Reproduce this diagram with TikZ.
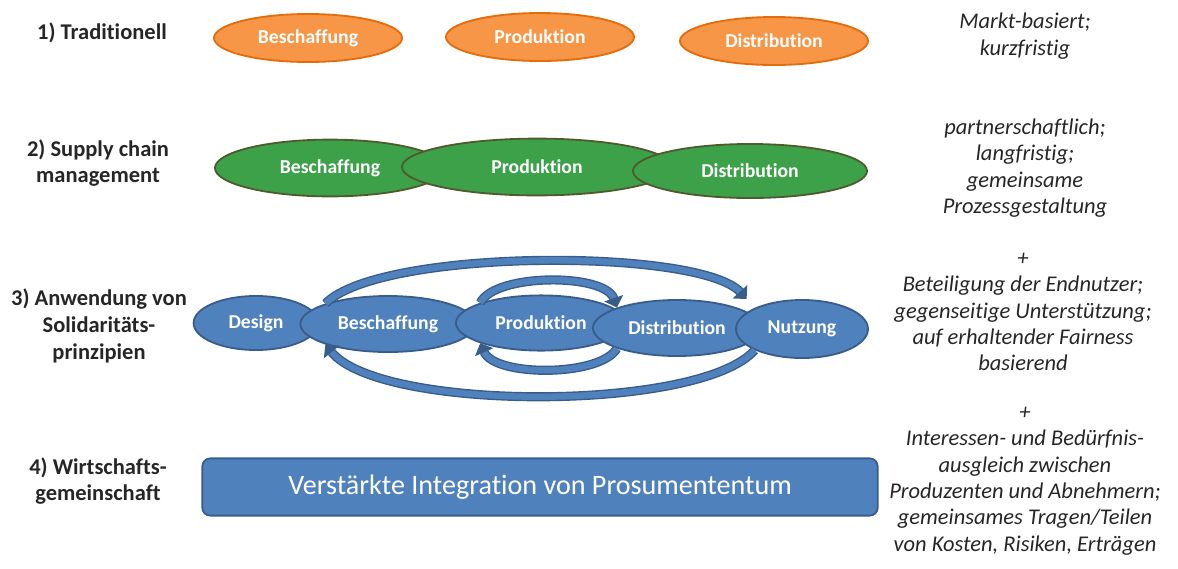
\documentclass[tikz,border=0pt]{standalone}
\usepackage{fontspec}
\setmainfont{Carlito}[Ligatures=NoCommon]
\usetikzlibrary{shapes.geometric,arrows.meta}

\definecolor{orangeFill}{HTML}{F79646}
\definecolor{orangeEdge}{HTML}{E46C0A}
\definecolor{greenFill}{HTML}{3DA14A}
\definecolor{greenEdge}{HTML}{4F5B2C}
\definecolor{blueFill}{HTML}{4F81BD}
\definecolor{blueEdge}{HTML}{385D8A}
\definecolor{textGrey}{HTML}{262626}

\begin{document}
\begin{tikzpicture}[x=0.025cm, y=-0.025cm,
    stage/.style={ellipse, line width=1.3pt, inner sep=0pt, text=white,
        font=\fontsize{14}{16}\selectfont\bfseries},
    trad/.style={stage, fill=orangeFill, draw=orangeEdge, minimum width=4.7cm, minimum height=1.2cm},
    scm/.style={stage, fill=greenFill, draw=greenEdge, minimum height=1.42cm},
    soli/.style={stage, fill=blueFill, draw=blueEdge, minimum height=1.4cm},
    level/.style={align=center, text=textGrey, font=\fontsize{16}{19}\selectfont\bfseries},
    trait/.style={align=center, text=textGrey, font=\fontsize{16}{18.8}\selectfont\itshape},
    cycleArrow/.style={draw=blueEdge, line width=1pt, double=blueFill, double distance=4.5pt,
        -{Triangle[width=14pt,length=7pt]}}]
    \useasboundingbox (0,0) rectangle (1178,568);

    % Row labels on the left
    \node[level] (lab1) at (102,33) {1) Traditionell};
    \node[level] (lab2) at (98,163) {2) Supply chain\\management};
    \node[level] (lab3) at (99,326) {3) Anwendung von\\Solidaritäts-\\prinzipien};
    \node[level] (lab4) at (98,481) {4) Wirtschafts-\\gemeinschaft};

    % 1) separate stages
    \node[trad] (orBesch) at (308,38) {Beschaffung};
    \node[trad] (orProd) at (540,37) {Produktion};
    \node[trad] (orDist) at (774,41) {Distribution};

    % 2) overlapping stages
    \node[scm, minimum width=5.75cm] (grBesch) at (330,168) {Beschaffung};
    \node[scm, minimum width=6.75cm] (grProd) at (537,167) {Produktion};
    \node[scm, minimum width=5.85cm, minimum height=1.35cm] (grDist) at (750,171) {Distribution};

    % 3) closed chain
    \node[soli, minimum width=3.12cm, minimum height=1.35cm] (design) at (256,323) {Design};
    \node[soli, minimum width=4.38cm] (blBesch) at (388,324) {Beschaffung};
    \node[soli, minimum width=4.25cm, minimum height=1.38cm] (blProd) at (541,323) {Produktion};
    \node[soli, minimum width=4.2cm] (blDist) at (677,328) {Distribution};
    \node[soli, minimum width=3.3cm, minimum height=1.45cm] (nutzung) at (802,329) {Nutzung};

    % Feedback loops
    \draw[cycleArrow, shorten >=0.3cm] (blBesch.north west) .. controls (380,248) and (700,248) .. (nutzung.north west);
    \draw[cycleArrow] (nutzung.south west) .. controls (700,412) and (380,412) .. (blBesch.south west);
    \draw[cycleArrow] (blProd.north west) .. controls (495,273) and (605,273) .. (blDist.north west);
    \draw[cycleArrow] (blDist.south west) .. controls (600,377) and (495,377) .. (blProd.south west);

    % 4) integration bar
    \node[rectangle, rounded corners=0.2cm, fill=blueFill, draw=blueEdge, line width=1.3pt,
        minimum width=16.88cm, minimum height=1.43cm, text=white,
        font=\fontsize{20}{24}\selectfont] (prosum) at (540,487) {Verstärkte Integration von Prosumententum};

    % Descriptions on the right
    \node[trait] (desc1) at (1025,36) {Markt-basiert;\\kurzfristig};
    \node[trait] (desc2) at (1025,168) {partnerschaftlich;\\langfristig;\\gemeinsame\\Prozessgestaltung};
    \node[trait] (desc3) at (1023,312) {+\\Beteiligung der Endnutzer;\\gegenseitige Unterstützung;\\auf erhaltender Fairness\\basierend};
    \node[trait] (desc4) at (1025,481) {+\\Interessen- und Bedürfnis-\\ausgleich zwischen\\Produzenten und Abnehmern;\\gemeinsames Tragen/Teilen\\von Kosten, Risiken, Erträgen};
\end{tikzpicture}
\end{document}
